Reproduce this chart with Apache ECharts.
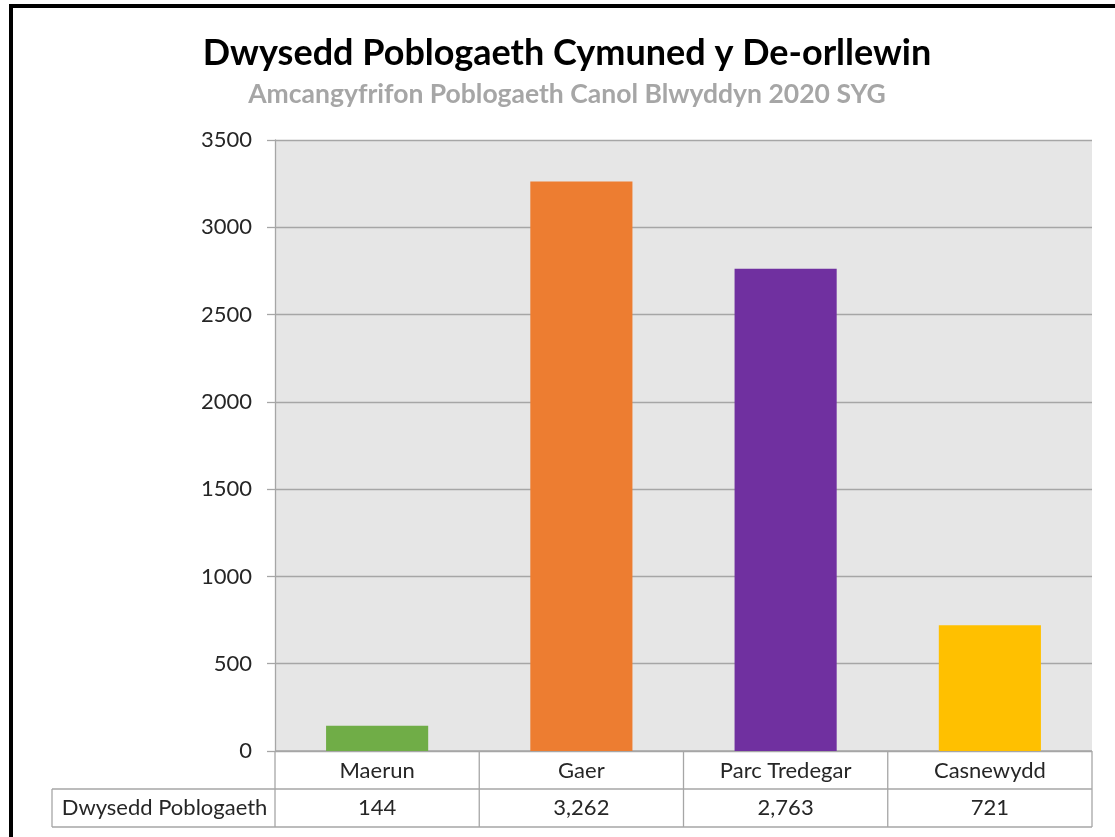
<!DOCTYPE html>
<html>
<head>
<meta charset="utf-8">
<script src="https://cdn.jsdelivr.net/npm/echarts@6/dist/echarts.min.js"></script>
<style>
  html, body { margin: 0; padding: 0; background: #fff; }
  #chart { width: 1115px; height: 837px; }
</style>
</head>
<body>
<div id="chart"></div>
<script>
const categories = ['Maerun', 'Gaer', 'Parc Tredegar', 'Casnewydd']
const values = [144, 3262, 2763, 721]
const barColors = ['#70AD47', '#ED7D31', '#7030A0', '#FFC000']
const seriesName = 'Dwysedd Poblogaeth'
const yTicks = { min: 0, max: 3500, step: 500 }

const FONT = 'Lato, "Open Sans", sans-serif'
const grid = { left: 275, top: 140, right: 23, bottom: 86 }
const W = 1115, H = 837
const plotW = W - grid.left - grid.right
const plotBottom = H - grid.bottom
const rowH = 38
const lineCol = '#a6a6a6'
const textCol = '#262626'

function fmt(v) { return v.toLocaleString('en-GB') }

function buildTable() {
  const els = []
  const colW = plotW / categories.length
  const x0 = grid.left
  const x1 = grid.left + plotW
  const y0 = plotBottom
  const y1 = y0 + rowH
  const y2 = y1 + rowH
  const headLeft = 52
  const line = (ax, ay, bx, by) => ({
    type: 'line', silent: true,
    shape: { x1: ax, y1: ay, x2: bx, y2: by },
    style: { stroke: lineCol, lineWidth: 1.3 }
  })
  els.push(line(x0, y0, x1, y0))
  els.push(line(headLeft, y1, x1, y1))
  els.push(line(headLeft, y2, x1, y2))
  els.push(line(headLeft, y1, headLeft, y2))
  for (let i = 0; i <= categories.length; i++) {
    const x = x0 + i * colW
    els.push(line(x, y0, x, y2))
  }
  const txt = (t, x, y) => ({
    type: 'text', silent: true, x, y,
    style: { text: t, fill: textCol, font: '22px ' + FONT, align: 'center', verticalAlign: 'middle' }
  })
  categories.forEach((c, i) => {
    const cx = x0 + (i + 0.5) * colW
    els.push(txt(c, cx, y0 + rowH / 2 + 1))
    els.push(txt(fmt(values[i]), cx, y1 + rowH / 2))
  })
  els.push(txt(seriesName, (headLeft + x0) / 2 + 1, y1 + rowH / 2))
  // outer chart border
  els.push({
    type: 'rect', silent: true,
    shape: { x: 11, y: 6, width: 1200, height: 900 },
    style: { fill: 'none', stroke: '#000', lineWidth: 4 }
  })
  return els
}

const chart = echarts.init(document.getElementById('chart'), null, { renderer: 'canvas' })
chart.setOption({
  backgroundColor: '#fff',
  animation: false,
  title: {
    text: 'Dwysedd Poblogaeth Cymuned y De-orllewin',
    subtext: 'Amcangyfrifon Poblogaeth Canol Blwyddyn 2020 SYG',
    left: 562, top: 30, textAlign: 'center',
    itemGap: 10,
    textStyle: { fontFamily: FONT, fontWeight: 'bold', fontSize: 36, color: '#000' },
    subtextStyle: { fontFamily: FONT, fontWeight: 'bold', fontSize: 26.5, color: '#a6a6a6' }
  },
  grid: { left: grid.left, top: grid.top, right: grid.right, bottom: grid.bottom, show: true, backgroundColor: '#e6e6e6', borderWidth: 0 },
  xAxis: {
    type: 'category',
    data: categories,
    axisLine: { show: false },
    axisTick: { show: false },
    axisLabel: { show: false }
  },
  yAxis: {
    type: 'value',
    min: yTicks.min, max: yTicks.max, interval: yTicks.step,
    axisLine: { show: true, lineStyle: { color: lineCol, width: 1.3 } },
    axisTick: { show: true, length: 8, lineStyle: { color: lineCol, width: 1.3 } },
    axisLabel: { color: textCol, fontFamily: FONT, fontSize: 22, margin: 23, formatter: v => String(v) },
    splitLine: { show: true, lineStyle: { color: lineCol, width: 1.3 } }
  },
  series: [{
    name: seriesName,
    type: 'bar',
    barCategoryGap: '50%',
    data: values.map((v, i) => ({ value: v, itemStyle: { color: barColors[i] } }))
  }],
  graphic: buildTable()
})
</script>
</body>
</html>
